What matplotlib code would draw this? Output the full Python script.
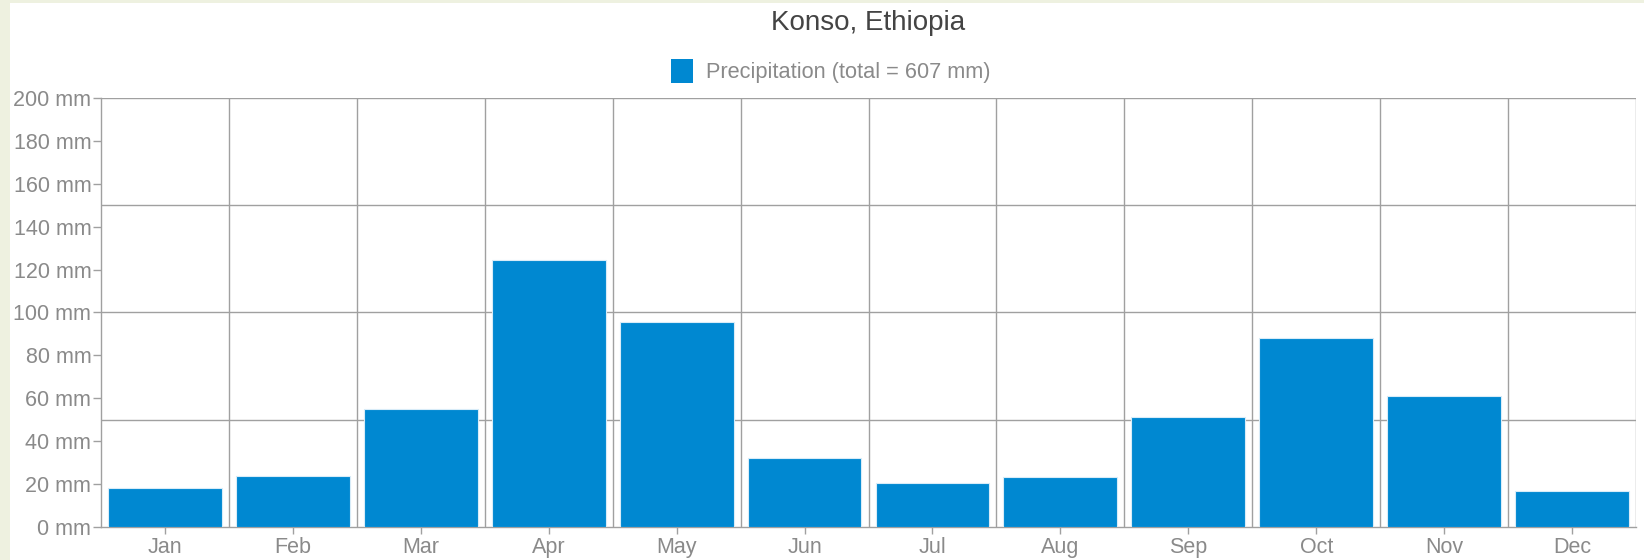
import numpy as np
import matplotlib
matplotlib.use('Agg')
import matplotlib.pyplot as plt
from matplotlib.patches import Patch

months = ['Jan', 'Feb', 'Mar', 'Apr', 'May', 'Jun', 'Jul', 'Aug', 'Sep', 'Oct', 'Nov', 'Dec']
precip = [18, 24, 55, 124.4, 95.5, 32, 20.4, 23.3, 51.3, 87.9, 61, 17]
y_ticks = [0, 20, 40, 60, 80, 100, 120, 140, 160, 180, 200]
grid_y = [50, 100, 150, 200]
title = 'Konso, Ethiopia'
legend_label = 'Precipitation (total = 607 mm)'

bar_color = '#0088d1'
grid_color = '#a0a0a0'
text_color = '#8a8a8a'

plt.rcParams['font.family'] = ['Liberation Sans', 'DejaVu Sans']

fig = plt.figure(figsize=(16.44, 5.6), dpi=100)
fig.patch.set_facecolor('#eef1e0')
# white panel, leaving the light strip on the left and top
fig.patches.append(plt.Rectangle((10 / 1644, 0), 1, 1 - 3 / 560, transform=fig.transFigure,
                                 facecolor='white', edgecolor='none', zorder=-5))

ax = fig.add_axes([101 / 1644, 33 / 560, 1535 / 1644, 429 / 560])
ax.set_zorder(2)
ax.set_facecolor('white')

x = np.arange(len(months))
ax.bar(x, precip, width=0.89, color=bar_color, edgecolor='#d8ecf8', linewidth=0.8, zorder=3)

ax.set_xlim(-0.5, len(months) - 0.5)
ax.set_ylim(0, 200)

for g in grid_y:
    ax.axhline(g, color=grid_color, linewidth=1, zorder=1)
for b in np.arange(0.5, len(months) - 0.5 + 1, 1.0):
    ax.axvline(b, color=grid_color, linewidth=1, zorder=1)

ax.set_yticks(y_ticks)
ax.set_yticklabels([f'{v} mm' for v in y_ticks])
ax.set_xticks(x)
ax.set_xticklabels(months)
ax.tick_params(axis='y', colors=grid_color, labelcolor=text_color, labelsize=15.5,
               length=6, width=1, pad=1)
ax.tick_params(axis='x', colors=grid_color, labelcolor=text_color, labelsize=15.5,
               length=5, width=1, pad=2)

for side in ['top', 'right']:
    ax.spines[side].set_visible(False)
for side in ['left', 'bottom']:
    ax.spines[side].set_color(grid_color)
    ax.spines[side].set_linewidth(1)

fig.text((101 + 1636) / 2 / 1644, 1 - 23 / 560, title, ha='center', va='center',
         fontsize=20, color='#444444')
fig.legend(handles=[Patch(facecolor=bar_color, edgecolor='none', label=legend_label)],
           loc='center', bbox_to_anchor=(831 / 1644, 1 - 71 / 560), frameon=False,
           fontsize=15.7, handlelength=1.0, handleheight=1.3, handletextpad=0.6,
           labelcolor=text_color)

fig.savefig('out.png', dpi=100, facecolor=fig.get_facecolor())
